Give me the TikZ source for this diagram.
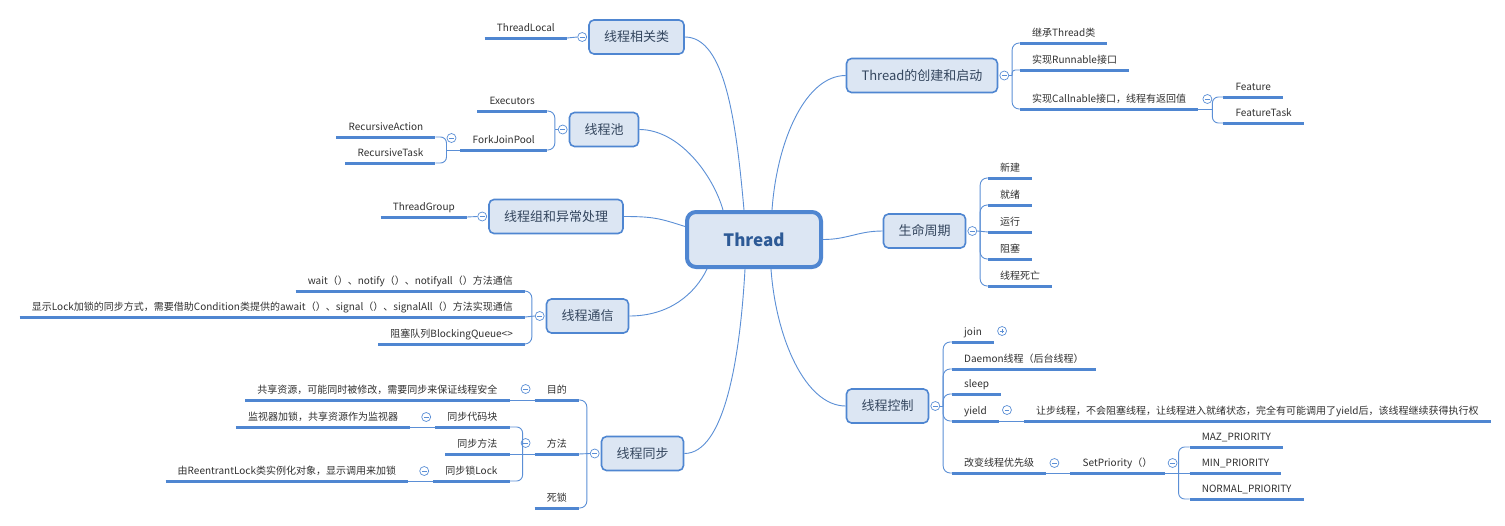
\documentclass[tikz,border=0pt]{standalone}
\usepackage{fontspec}
\setmainfont{Noto Sans CJK SC}
\usetikzlibrary{positioning, calc}
\definecolor{mmline}{HTML}{5B8FD6}
\definecolor{mmbar}{HTML}{4F86D1}
\definecolor{mmfill}{HTML}{DCE6F3}
\definecolor{mmtopic}{HTML}{34465E}
\definecolor{mmroot}{HTML}{2D5A96}
\definecolor{mmleaf}{HTML}{303030}

\begin{document}
\begin{tikzpicture}[
  x=1pt, y=-1pt,
  rootnode/.style={rectangle, rounded corners=9pt, draw=mmbar, line width=4pt, fill=mmfill,
                   minimum width=134pt, minimum height=55pt, text=mmroot,
                   font=\fontsize{17}{20}\selectfont\bfseries},
  topic/.style={rectangle, rounded corners=5pt, draw=mmbar, line width=1.6pt, fill=mmfill,
                minimum height=34pt, inner xsep=15pt, text=mmtopic, font=\fontsize{13}{15}\selectfont},
  bar/.style={draw=mmbar, line width=3pt},
  leaf/.style={inner xsep=12pt, inner ysep=4.5pt, text height=8.5pt, text depth=1.5pt, text=mmleaf,
               font=\fontsize{10}{12}\selectfont,
               append after command={(\tikzlastnode.south west) edge[bar] (\tikzlastnode.south east)}},
  leafR/.style={leaf, anchor=south west},
  leafL/.style={leaf, anchor=south east},
  conn/.style={draw=mmline, line width=0.9pt},
  fork/.style={conn, rounded corners=7pt, to path={|- (\tikztotarget)}},
  fold/.style={circle, draw=mmline, fill=white, line width=0.7pt, minimum size=9pt, inner sep=0pt,
               path picture={\draw[mmline, line width=0.7pt]
                 ([xshift=-2.4pt]path picture bounding box.center) -- ([xshift=2.4pt]path picture bounding box.center);}},
  unfold/.style={fold, path picture={\draw[mmline, line width=0.7pt]
                 ([xshift=-2.4pt]path picture bounding box.center) -- ([xshift=2.4pt]path picture bounding box.center)
                 ([yshift=-2.4pt]path picture bounding box.center) -- ([yshift=2.4pt]path picture bounding box.center);}}
]
\fill[white] (0,0) rectangle (1505,525);
\useasboundingbox (0,0) rectangle (1505,525);

% === Central topic ===
\node[rootnode] (thread) at (754,239.5) {Thread};

% === Main topics ===
\node[topic] (related) at (636.5,37) {线程相关类};
\node[topic] (pool) at (604,129.5) {线程池};
\node[topic] (group) at (556,216.5) {线程组和异常处理};
\node[topic] (comm) at (587.5,316) {线程通信};
\node[topic] (sync) at (642.5,453.5) {线程同步};
\node[topic] (create) at (922,75.5) {Thread的创建和启动};
\node[topic] (life) at (924.5,231) {生命周期};
\node[topic] (ctrl) at (887.5,406) {线程控制};

% === Branches from the centre ===
\draw[conn] (related.east) .. controls +(40,0) and +(-8,-90) .. ([xshift=-10pt]thread.north);
\draw[conn] (pool.east) .. controls +(40,0) and +(-10,-35) .. ([xshift=-31pt]thread.north);
\draw[conn] (group.east) .. controls +(30,0) and +(-25,-8) .. ([yshift=13pt]thread.west);
\draw[conn] (comm.east) .. controls +(40,0) and +(-12,25) .. ([xshift=22pt]thread.south west);
\draw[conn] (sync.east) .. controls +(40,0) and +(-5,90) .. ([xshift=-9pt]thread.south);
\draw[conn] (create.west) .. controls +(-40,0) and +(5,-70) .. ([xshift=18pt]thread.north);
\draw[conn] (life.west) .. controls +(-25,0) and +(25,0) .. (thread.east);
\draw[conn] (ctrl.west) .. controls +(-40,0) and +(5,70) .. ([xshift=17pt]thread.south);

% === Fold markers on the topics ===
\node[fold] (frelated) at ([xshift=-6pt]related.west) {};
\node[fold] (fpool) at ([xshift=-6pt]pool.west) {};
\node[fold] (fgroup) at ([xshift=-6pt]group.west) {};
\node[fold] (fcomm) at ([xshift=-6pt]comm.west) {};
\node[fold] (fsync) at ([xshift=-6pt]sync.west) {};
\node[fold] (fcreate) at ([xshift=6pt]create.east) {};
\node[fold] (flife) at ([xshift=6pt]life.east) {};
\node[fold] (fctrl) at ([xshift=6pt]ctrl.east) {};

% === Thread creation ===
\node[leafR] (inherit) at (1020,43) {继承Thread类};
\node[leafR] (runnable) at (1020,70) {实现Runnable接口};
\node[leafR] (callable) at (1020,109) {实现Callnable接口，线程有返回值};
\node[fold] (fcallable) at ([xshift=9pt,yshift=10pt]callable.south east) {};
\node[leafR] (future) at ([xshift=25pt,yshift=12pt]callable.south east) {Feature};
\node[leafR] (futuretask) at ([xshift=25pt,yshift=-14pt]callable.south east) {FeatureTask};

\draw[conn] (fcreate.east) -- ([xshift=3pt]fcreate.east);
\draw[fork] ([xshift=3pt]fcreate.east) to (inherit.south west);
\draw[fork, rounded corners=3pt] ([xshift=3pt]fcreate.east) to (runnable.south west);
\draw[fork] ([xshift=3pt]fcreate.east) to (callable.south west);
\draw[conn] (callable.south east) -- ([xshift=14pt]callable.south east);
\draw[fork, rounded corners=6pt] ([xshift=14pt]callable.south east) to (future.south west);
\draw[fork, rounded corners=6pt] ([xshift=14pt]callable.south east) to (futuretask.south west);

% === Life cycle ===
\foreach \txt [count=\i] in {新建,就绪,运行,阻塞,线程死亡}
  \node[leafR] (state\i) at (988,151+27*\i) {\txt};
\draw[conn] (flife.east) -- (state3.south west);
\foreach \i in {1,2,4,5}
  \draw[fork] ([xshift=3pt]flife.east) to (state\i.south west);

% === Thread control ===
\node[leafR] (join) at (952,342) {join};
\node[unfold] (fjoin) at ([xshift=8pt,yshift=11pt]join.south east) {};
\node[leafR] (daemon) at (952,369) {Daemon线程（后台线程）};
\node[leafR] (sleep) at (952,394) {sleep};
\node[leafR] (yield) at (952,421) {yield};
\node[fold] (fyield) at ([xshift=8pt,yshift=11pt]yield.south east) {};
\node[leafR] (yielddesc) at ([xshift=25pt]yield.south east)
  {让步线程，不会阻塞线程，让线程进入就绪状态，完全有可能调用了yield后，该线程继续获得执行权};
\node[leafR] (prio) at (952,473) {改变线程优先级};
\node[fold] (fprio) at ([xshift=8pt,yshift=10pt]prio.south east) {};
\node[leafR] (setprio) at ([xshift=24pt]prio.south east) {SetPriority（）};
\node[fold] (fsetprio) at ([xshift=8pt,yshift=10pt]setprio.south east) {};
\node[leafR] (maxprio) at ([xshift=25pt,yshift=26pt]setprio.south east) {MAZ\_PRIORITY};
\node[leafR] (minprio) at ([xshift=25pt]setprio.south east) {MIN\_PRIORITY};
\node[leafR] (normprio) at ([xshift=25pt,yshift=-26pt]setprio.south east) {NORMAL\_PRIORITY};

\draw[conn] (fctrl.east) -- ([xshift=3pt]fctrl.east);
\foreach \k in {join,daemon,sleep,yield,prio}
  \draw[fork] ([xshift=3pt]fctrl.east) to (\k.south west);
\draw[conn] (yield.south east) -- (yielddesc.south west);
\draw[conn] (prio.south east) -- (setprio.south west);
\draw[conn] (setprio.south east) -- (minprio.south west);
\draw[fork, rounded corners=6pt] ([xshift=14pt]setprio.south east) to (maxprio.south west);
\draw[fork, rounded corners=6pt] ([xshift=14pt]setprio.south east) to (normprio.south west);

% === Related classes, pool, group ===
\node[leafL] (tlocal) at (567,38) {ThreadLocal};
\draw[conn] (frelated.west) -- (tlocal.south east);

\node[leafL] (executors) at (547,111) {Executors};
\node[leafL] (forkjoin) at (547,150) {ForkJoinPool};
\node[fold] (fforkjoin) at ([xshift=-9pt,yshift=12pt]forkjoin.south west) {};
\node[leafL] (raction) at ([xshift=-25pt,yshift=13pt]forkjoin.south west) {RecursiveAction};
\node[leafL] (rtask) at ([xshift=-25pt,yshift=-13pt]forkjoin.south west) {RecursiveTask};
\draw[conn] (fpool.west) -- ([xshift=-3pt]fpool.west);
\draw[fork] ([xshift=-3pt]fpool.west) to (executors.south east);
\draw[fork] ([xshift=-3pt]fpool.west) to (forkjoin.south east);
\draw[conn] (forkjoin.south west) -- ([xshift=-14pt]forkjoin.south west);
\draw[fork, rounded corners=6pt] ([xshift=-14pt]forkjoin.south west) to (raction.south east);
\draw[fork, rounded corners=6pt] ([xshift=-14pt]forkjoin.south west) to (rtask.south east);

\node[leafL] (tgroup) at (467,217) {ThreadGroup};
\draw[conn] (fgroup.west) -- (tgroup.south east);

% === Communication ===
\node[leafL] (waitn) at (525,291) {wait（）、notify（）、notifyall（）方法通信};
\node[leafL] (condition) at (525,317)
  {显示Lock加锁的同步方式，需要借助Condition类提供的await（）、signal（）、signalAll（）方法实现通信};
\node[leafL] (bqueue) at (525,344) {阻塞队列BlockingQueue<>};
\draw[conn] (fcomm.west) -- (condition.south east);
\draw[fork] ([xshift=-3pt]fcomm.west) to (waitn.south east);
\draw[fork] ([xshift=-3pt]fcomm.west) to (bqueue.south east);

% === Synchronisation ===
\node[leafL] (goal) at (579,400) {目的};
\node[fold] (fgoal) at ([xshift=-9pt,yshift=11pt]goal.south west) {};
\node[leafL] (goaldesc) at ([xshift=-25pt]goal.south west) {共享资源，可能同时被修改，需要同步来保证线程安全};
\node[leafL] (method) at (579,454) {方法};
\node[fold] (fmethod) at ([xshift=-9pt,yshift=11pt]method.south west) {};
\node[leafL] (block) at ([xshift=-25pt,yshift=27pt]method.south west) {同步代码块};
\node[fold] (fblock) at ([xshift=-9pt,yshift=10pt]block.south west) {};
\node[leafL] (blockdesc) at ([xshift=-25pt]block.south west) {监视器加锁，共享资源作为监视器};
\node[leafL] (smethod) at ([xshift=-25pt]method.south west) {同步方法};
\node[leafL] (lock) at ([xshift=-25pt,yshift=-27pt]method.south west) {同步锁Lock};
\node[fold] (flock) at ([xshift=-9pt,yshift=10pt]lock.south west) {};
\node[leafL] (lockdesc) at ([xshift=-25pt]lock.south west) {由ReentrantLock类实例化对象，显示调用来加锁};
\node[leafL] (deadlock) at (579,508) {死锁};

\draw[conn] (fsync.west) -- (method.south east);
\draw[fork] ([xshift=-3pt]fsync.west) to (goal.south east);
\draw[fork] ([xshift=-3pt]fsync.west) to (deadlock.south east);
\draw[conn] (goal.south west) -- (goaldesc.south east);
\draw[conn] (method.south west) -- (smethod.south east);
\draw[fork, rounded corners=6pt] ([xshift=-12pt]method.south west) to (block.south east);
\draw[fork, rounded corners=6pt] ([xshift=-12pt]method.south west) to (lock.south east);
\draw[conn] (block.south west) -- (blockdesc.south east);
\draw[conn] (lock.south west) -- (lockdesc.south east);

\end{tikzpicture}
\end{document}
